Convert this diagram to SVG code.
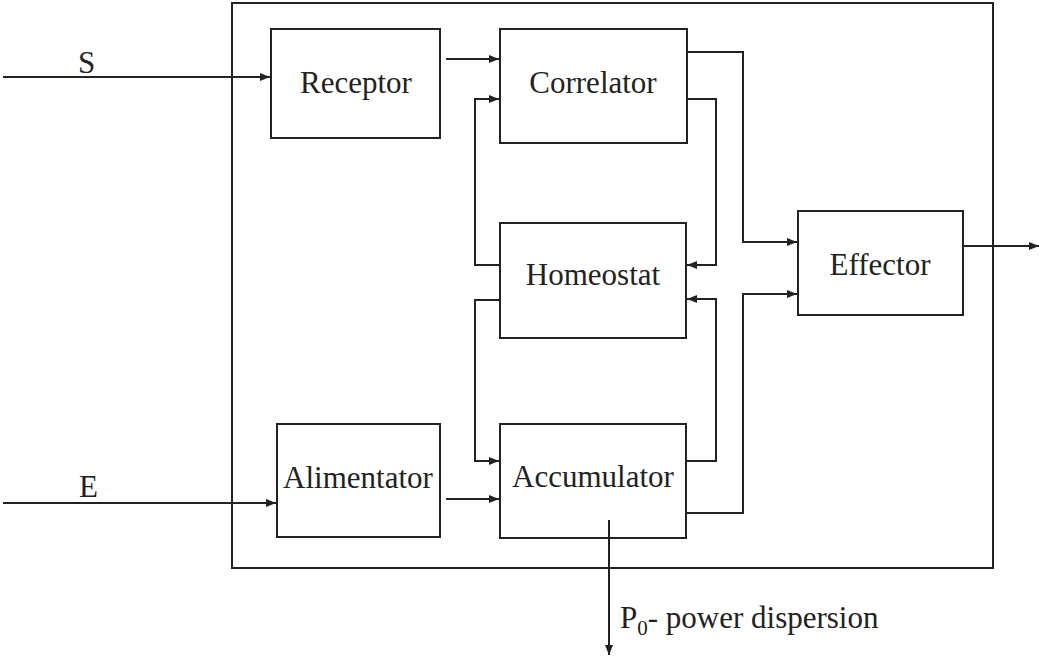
<svg xmlns="http://www.w3.org/2000/svg" width="1039" height="656" viewBox="0 0 1039 656">
<style>
.box{fill:#fff;stroke:#222;stroke-width:2}
.lbl{font-family:"Liberation Serif","DejaVu Serif",serif;font-size:31px;fill:#222;text-anchor:middle}
.txt{font-family:"Liberation Serif","DejaVu Serif",serif;font-size:31px;fill:#222}
.c{fill:none;stroke:#222;stroke-width:2}
</style>
<defs>
<marker id="ah" viewBox="0 0 10 10" refX="10" refY="5" markerWidth="10" markerHeight="10" markerUnits="userSpaceOnUse" orient="auto">
<path d="M0,1 L10,5 L0,9 Z" fill="#222"/>
</marker>
</defs>
<rect id="system" x="232" y="3" width="761" height="565" fill="#fff" stroke="#222" stroke-width="2"/>
<g id="receptor"><rect class="box" x="271" y="29" width="169" height="109"/><text class="lbl" x="356" y="93">Receptor</text></g>
<g id="correlator"><rect class="box" x="500" y="29" width="187" height="114"/><text class="lbl" x="593" y="93">Correlator</text></g>
<g id="homeostat"><rect class="box" x="500" y="223" width="186" height="115"/><text class="lbl" x="593" y="285">Homeostat</text></g>
<g id="alimentator"><rect class="box" x="277" y="424" width="163" height="113"/><text class="lbl" x="358" y="488">Alimentator</text></g>
<g id="accumulator"><rect class="box" x="500" y="424" width="186" height="114"/><text class="lbl" x="593" y="487">Accumulator</text></g>
<g id="effector"><rect class="box" x="798" y="211" width="165" height="104"/><text class="lbl" x="880" y="275">Effector</text></g>
<g id="connectors">
<path class="c" d="M3,77 H270" marker-end="url(#ah)"/>
<path class="c" d="M446,59 H499" marker-end="url(#ah)"/>
<path class="c" d="M500,265 H475 V99 H499" marker-end="url(#ah)"/>
<path class="c" d="M687,52 H743 V242 H797" marker-end="url(#ah)"/>
<path class="c" d="M687,99 H716 V265 H687" marker-end="url(#ah)"/>
<path class="c" d="M686,461 H716 V299 H687" marker-end="url(#ah)"/>
<path class="c" d="M686,513 H743 V294 H797" marker-end="url(#ah)"/>
<path class="c" d="M500,300 H475 V461 H499" marker-end="url(#ah)"/>
<path class="c" d="M446,499 H499" marker-end="url(#ah)"/>
<path class="c" d="M3,503 H276" marker-end="url(#ah)"/>
<path class="c" d="M963,246 H1039" marker-end="url(#ah)"/>
<path class="c" d="M609,520 V655" marker-end="url(#ah)"/>
</g>
<text class="txt" x="78" y="73">S</text>
<text class="txt" x="79" y="497">E</text>
<text class="txt" x="620" y="628">P<tspan font-size="21" dy="7">0</tspan><tspan dy="-7">- power dispersion</tspan></text>
</svg>
